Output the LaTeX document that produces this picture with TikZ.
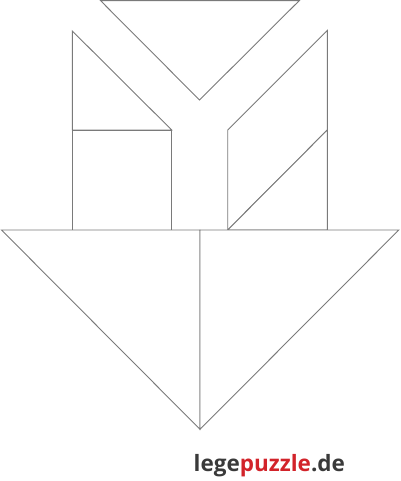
\documentclass[tikz,border=0pt]{standalone}
\usepackage{fontspec}
\newfontfamily\logofont{Open Sans}
\definecolor{edge}{HTML}{7A7A7A}
\definecolor{logored}{HTML}{D2232A}
\definecolor{logodark}{HTML}{3A3A3A}
\begin{document}
\begin{tikzpicture}[x=1pt,y=-1pt,
  piece/.style={draw=edge,line width=0.9pt,line join=miter,fill=white}]
\useasboundingbox (0,0) rectangle (400,481);
% top triangle
\draw[piece] (100.5,0.6) -- (299.3,0.6) -- (199.5,100) -- cycle;
% left triangle
\draw[piece] (72.3,31) -- (171.7,130) -- (72.3,130) -- cycle;
% square
\draw[piece] (72.3,130) rectangle (171.7,230);
% parallelogram
\draw[piece] (227.7,130) -- (327.3,30.5) -- (327.3,130) -- (227.7,230) -- cycle;
% small triangle
\draw[piece] (227.7,230) -- (327.3,130) -- (327.3,230) -- cycle;
% big triangles
\draw[piece] (1.5,230) -- (200,230) -- (200,429.3) -- cycle;
\draw[piece] (200,230) -- (398.8,230) -- (200,429.3) -- cycle;
% logo
\node[anchor=base west,inner sep=0pt,font=\logofont\bfseries\fontsize{22.5}{24}\selectfont]
  (logo) at (193.5,471) {\textcolor{logodark}{lege}\textcolor{logored}{puzzle}\textcolor{logodark}{.de}};
\end{tikzpicture}
\end{document}
